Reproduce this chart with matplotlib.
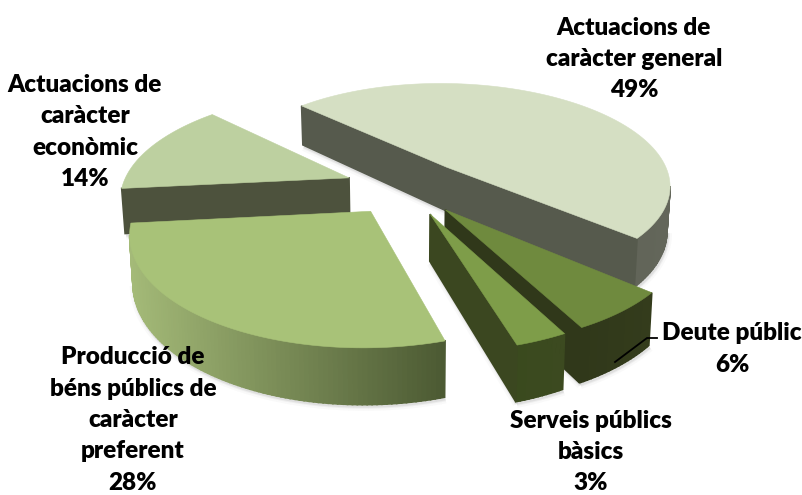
import numpy as np
import matplotlib
matplotlib.use('Agg')
import matplotlib.pyplot as plt
from matplotlib.colors import to_rgb
from matplotlib.patches import Polygon

# chart data, clockwise from the first slice
shares = [49, 6, 3, 28, 14]
labels = [
    'Actuacions de\ncaràcter general\n49%',
    'Deute públic\n6%',
    'Serveis públics\nbàsics\n3%',
    'Producció de\nbéns públics de\ncaràcter\npreferent\n28%',
    'Actuacions de\ncaràcter\neconòmic\n14%',
]
top_colors = ['#D5DFC3', '#6F8A3E', '#7E9D49', '#A8C278', '#BDD0A0']
side_colors = ['#565A4D', '#30381A', '#3B4720', '#A8C278', '#4D523D']
arc_colors = [('#565A4D', '#63665A'), ('#30381A', '#343C1C'), ('#3A4A1E', '#3C4A20'),
              ('#A4BA78', '#4C5A33'), ('#4D523D', '#4D523D')]
label_pos = [(634, 59), (732, 349), (591, 452), (133, 420), (85, 132)]

# fake 3d view, in pixels
CX, CY = 406, 187
R, RY = 227, 104
K = 0.17
DEPTH = 45
EXPLODE = 0.27
START = 135.5
draw_order = [4, 0, 1, 2, 3]


def project(px, py, z=0.0):
    s = 1 / (1 + K * py)
    f = 1 - 0.012 * z
    return CX + R * px * s * f, CY - RY * py * s + DEPTH * s * z


def blend(c0, c1, t):
    a, b = np.array(to_rgb(c0)), np.array(to_rgb(c1))
    return tuple(a + (b - a) * t)


fig = plt.figure(figsize=(8.03, 4.95), dpi=100)
ax = fig.add_axes([0, 0, 1, 1])
ax.set_xlim(0, 803)
ax.set_ylim(495, 0)
ax.axis('off')

edges = START - np.cumsum([0] + shares) * 3.6

for i in draw_order:
    t0, t1 = edges[i], edges[i + 1]
    mid = np.radians((t0 + t1) / 2)
    ox, oy = EXPLODE * np.cos(mid), EXPLODE * np.sin(mid)
    th = np.radians(np.linspace(t0, t1, int(abs(t1 - t0)) + 2))
    px = np.r_[ox, ox + np.cos(th), ox]
    py = np.r_[oy, oy + np.sin(th), oy]
    xt, yt = project(px, py)
    xb, yb = project(px, py, 1.0)
    n = len(px) - 1

    # soft shadow under the visible walls
    zo = draw_order.index(i) * 3 + 2
    for lw, a in [(6, 0.04), (3, 0.08), (1.5, 0.12)]:
        vis = [j for j in range(n) if xt[j + 1] < xt[j]]
        for j in vis:
            ax.plot(xb[j:j + 2] + 1, yb[j:j + 2] + 2, color='#777777', lw=lw, alpha=a,
                    solid_capstyle='butt', zorder=zo - 1)

    arc_x = xt[1:n]
    for j in range(n):
        if xt[j + 1] >= xt[j]:
            continue
        if j == 0 or j == n - 1:
            c = side_colors[i]
        else:
            t = (xt[j] - arc_x.min()) / (arc_x.max() - arc_x.min())
            c = blend(arc_colors[i][0], arc_colors[i][1], t)
        quad = [(xt[j], yt[j]), (xt[j + 1], yt[j + 1]), (xb[j + 1], yb[j + 1]), (xb[j], yb[j])]
        ax.add_patch(Polygon(quad, closed=True, facecolor=c, edgecolor=c, lw=1.2, zorder=zo))

    ax.add_patch(Polygon(np.c_[xt, yt], closed=True, facecolor=top_colors[i],
                         edgecolor=top_colors[i], lw=0.4, zorder=zo + 1))

# leader line of the small slice
ax.plot([615, 647, 657], [362, 338, 338], color='black', lw=1.3, zorder=30)

for lab, (x, y) in zip(labels, label_pos):
    ax.text(x, y, lab, ha='center', va='center', family='Lato', fontweight='heavy',
            fontsize=17.5, linespacing=1.52, color='black', zorder=40)

plt.savefig('out.png', dpi=100)
